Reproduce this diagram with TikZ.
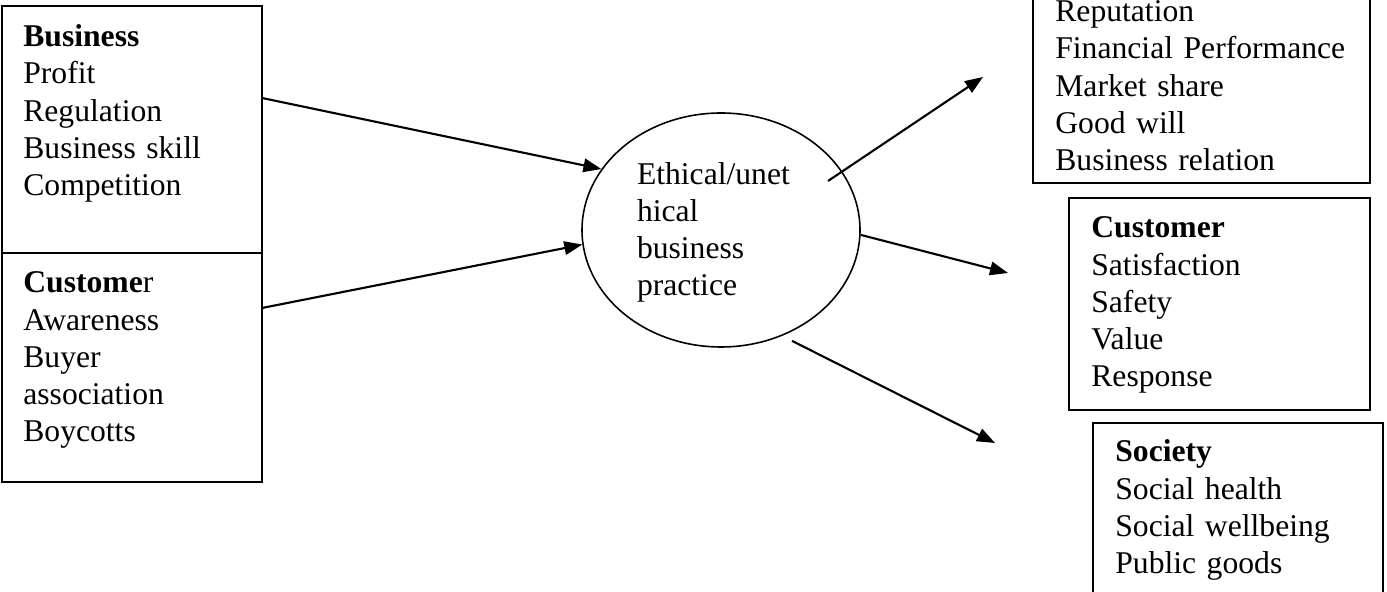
\documentclass[tikz,border=0pt]{standalone}
\usepackage{fontspec}
\setmainfont{Liberation Serif}
\usepackage{tikz}
\usetikzlibrary{
    arrows.meta,
    shapes.geometric,
    positioning,
    calc
}
\tikzstyle{panel} = [
    rectangle,
    draw=black,
    line width=1.1pt,
    inner sep=0pt,
    outer sep=0pt
]
\tikzstyle{items} = [
    anchor=base west,
    inner sep=0pt,
    text width=6cm,
    align=left,
    font=\fontsize{18}{21.06}\selectfont
]
\tikzstyle{practice} = [
    ellipse,
    draw=black,
    line width=0.9pt,
    minimum width=5.56cm,
    minimum height=4.68cm,
    inner sep=0pt,
    text width=3.36cm,
    text height=0.55cm,
    align=left,
    font=\fontsize{18}{21.06}\selectfont
]
\tikzstyle{arrow} = [
    ->,
    >={Triangle[length=0.36cm,width=0.27cm]},
    line width=1.2pt,
    draw=black
]

\begin{document}
\begin{tikzpicture}
        \useasboundingbox (0,0) rectangle (27.74,11.84);
        \clip (0,0) rectangle (27.74,11.84);

        % Drivers (left)
        \node[panel, anchor=north west, minimum width=5.2cm, minimum height=4.94cm] (biz) at (0.04,11.72) {};
        \node[panel, minimum width=5.2cm, minimum height=4.58cm, below=0pt of biz] (cust) {};
        \node[items] (biztxt) at (0.46,10.9) {
            \textbf{Business}\\Profit\\Regulation\\Business skill\\Competition
        };
        \node[items] (custtxt) at (0.46,5.98) {
            \textbf{Custome}r\\Awareness\\Buyer\\association\\Boycotts
        };

        % Practice
        \node[practice] (ell) at (14.42,7.24) {
            Ethical/unet\\hical\\business\\practice
        };

        % Outcomes (right)
        \node[panel, anchor=south west, minimum width=6.74cm, minimum height=4.5cm] (outbiz) at (20.66,8.18) {};
        \node[panel, anchor=north west, minimum width=6.02cm, minimum height=4.24cm] (outcust) at (21.38,7.88) {};
        \node[panel, anchor=north west, minimum width=5.8cm, minimum height=4.0cm] (outsoc) at (21.86,3.38) {};
        \node[items] (outbiztxt) at (21.1,11.4) {
            Reputation\\Financial Performance\\Market share\\Good will\\Business relation
        };
        \node[items] (outcusttxt) at (21.82,7.08) {
            \textbf{Customer}\\Satisfaction\\Safety\\Value\\Response
        };
        \node[items] (outsoctxt) at (22.3,2.6) {
            \textbf{Society}\\Social health\\Social wellbeing\\Public goods
        };

        % Arrow ends
        \coordinate (o1s) at (16.56,8.22);
        \coordinate (o1e) at (19.66,10.3);
        \coordinate (o2e) at (20.16,6.38);
        \coordinate (o3e) at (19.9,2.98);

        % Arrows
        \draw[arrow] ([yshift=0.63cm]biz.east) -- (ell.153);
        \draw[arrow] ([yshift=1.19cm]cust.east) -- (ell.186);
        \draw[arrow] (o1s) -- (o1e);
        \draw[arrow] (ell.-2) -- (o2e);
        \draw[arrow, shorten <=0.22cm] (ell.-60) -- (o3e);
    \end{tikzpicture}
\end{document}
